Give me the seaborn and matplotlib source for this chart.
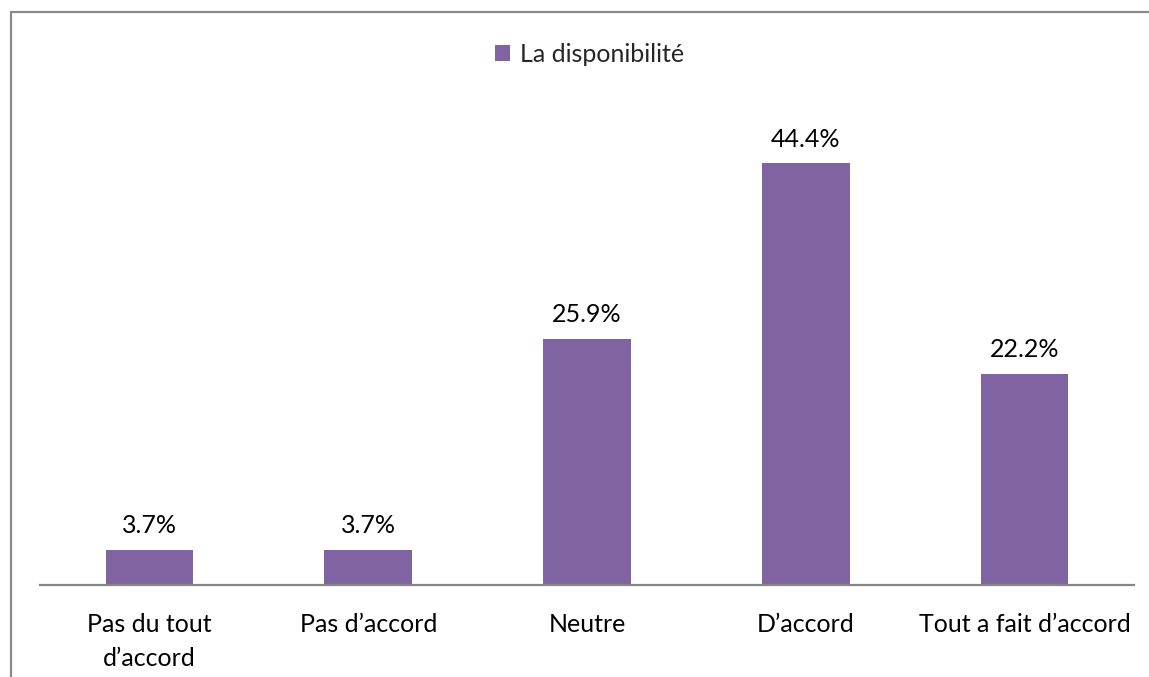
import matplotlib
matplotlib.use("Agg")
import matplotlib.pyplot as plt
from matplotlib.lines import Line2D
from matplotlib.patches import Patch
import seaborn as sns
import pandas as pd

categories = ["Pas du tout\nd\u2019accord", "Pas d\u2019accord", "Neutre", "D\u2019accord", "Tout a fait d\u2019accord"]
values = [3.7, 3.7, 25.9, 44.4, 22.2]
value_labels = ["3.7%", "3.7%", "25.9%", "44.4%", "22.2%"]
series_name = "La disponibilit\u00e9"

sns.set_theme(style="white")
plt.rcParams["font.family"] = ["Lato", "DejaVu Sans"]

BAR_COLOR = "#8064A2"
GRID_GRAY = "#868686"

fig = plt.figure(figsize=(11.49, 6.77), dpi=100)
ax = fig.add_axes([40 / 1149, 1 - 585 / 677, (1134 - 40) / 1149, (585 - 110) / 677])

df = pd.DataFrame({"cat": categories, "val": values})
sns.barplot(data=df, x="cat", y="val", color=BAR_COLOR, width=0.4, ax=ax,
            saturation=1, edgecolor="none")

ax.set_xlim(-0.5, 4.5)
ax.set_ylim(0, 50)
ax.set_xlabel("")
ax.set_ylabel("")
ax.set_yticks([])
for side in ["top", "right", "left"]:
    ax.spines[side].set_visible(False)
ax.spines["bottom"].set_color(GRID_GRAY)
ax.spines["bottom"].set_linewidth(1.6)
ax.tick_params(axis="x", length=0, pad=20, labelsize=18, colors="black")
for lbl in ax.get_xticklabels():
    lbl.set_linespacing(1.6)
    lbl.set_verticalalignment("top")

for bar, txt in zip(ax.patches, value_labels):
    ax.annotate(txt, (bar.get_x() + bar.get_width() / 2, bar.get_height()),
                xytext=(0, 12), textcoords="offset points",
                ha="center", va="baseline", fontsize=18, color="black")

# legend at top centre
handle = Patch(facecolor=BAR_COLOR, edgecolor="none")
fig.legend([handle], [series_name], loc="center", bbox_to_anchor=(590 / 1149, 1 - 54 / 677),
           frameon=False, fontsize=18, handlelength=0.6, handleheight=0.6, handletextpad=0.4)

# outer chart frame
fig.add_artist(Line2D([11 / 1149, 1], [1 - 12 / 677, 1 - 12 / 677], transform=fig.transFigure,
                      color="#8a8a8a", linewidth=1.6))
fig.add_artist(Line2D([11 / 1149, 11 / 1149], [0, 1 - 12 / 677], transform=fig.transFigure,
                      color="#8a8a8a", linewidth=1.6))

fig.savefig("out.png", dpi=100, facecolor="white")
